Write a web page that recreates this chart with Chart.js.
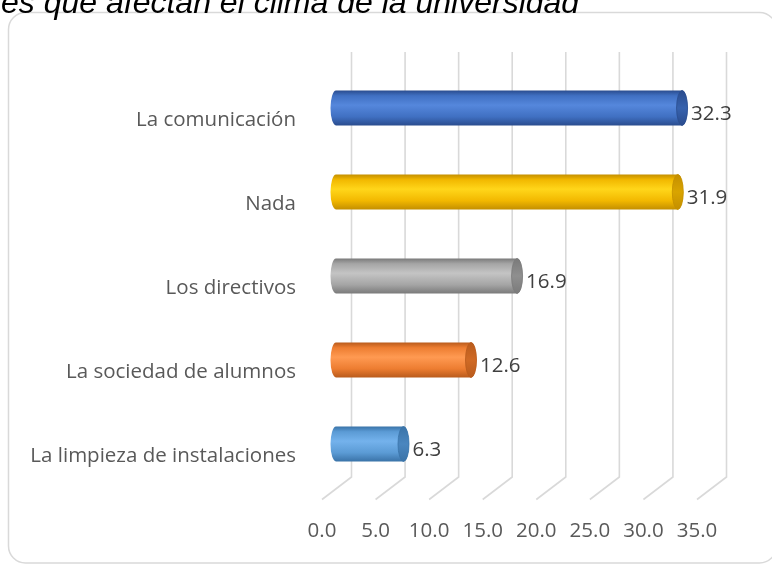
<!DOCTYPE html>
<html><head><meta charset="utf-8">
<script src="https://cdn.jsdelivr.net/npm/chart.js@4/dist/chart.umd.min.js"></script>
<style>html,body{margin:0;padding:0;background:#fff;overflow:hidden}</style>
</head><body><canvas id="c" width="772" height="565"></canvas>
<script>
const categories = ['La comunicación', 'Nada', 'Los directivos', 'La sociedad de alumnos', 'La limpieza de instalaciones'];
const values = [32.3, 31.9, 16.9, 12.6, 6.3];
const tickValues = [0, 5, 10, 15, 20, 25, 30, 35];
const titleText = 'es que afectan el clima de la universidad';
const barColors = [
  {dark:'#2a4c8e', base:'#4070c2', light:'#5587dc', cap:'#3762ad'},
  {dark:'#c48f00', base:'#f2b800', light:'#ffd61a', cap:'#d9a400'},
  {dark:'#7a7a7a', base:'#a5a5a5', light:'#c4c4c4', cap:'#8f8f8f'},
  {dark:'#b95b1c', base:'#ed7d31', light:'#ff9a52', cap:'#d06a25'},
  {dark:'#3a73a8', base:'#5b9bd5', light:'#74b2ec', cap:'#4a86bf'}
];

const DX = 14, DY = -12, BACKDX = 29.5;
const FONT = '"Open Sans", "Noto Sans", sans-serif';

function drawCylinder(ctx, x0, x1, cy, h, c) {
  const ry = h / 2, rx = 5.5;
  const top = cy - ry, bot = cy + ry;
  const g = ctx.createLinearGradient(0, top, 0, bot);
  g.addColorStop(0, c.dark);
  g.addColorStop(0.15, c.base);
  g.addColorStop(0.42, c.light);
  g.addColorStop(0.75, c.base);
  g.addColorStop(1, c.dark);
  ctx.beginPath();
  ctx.moveTo(x1, top);
  ctx.lineTo(x0, top);
  ctx.ellipse(x0, cy, rx, ry, 0, -Math.PI / 2, Math.PI / 2, true);
  ctx.lineTo(x1, bot);
  ctx.ellipse(x1, cy, rx, ry, 0, Math.PI / 2, -Math.PI / 2, true);
  ctx.closePath();
  ctx.fillStyle = g;
  ctx.fill();
  ctx.beginPath();
  ctx.ellipse(x1, cy, rx, ry, 0, 0, Math.PI * 2);
  const g2 = ctx.createLinearGradient(0, top, 0, bot);
  g2.addColorStop(0, c.dark);
  g2.addColorStop(0.5, c.cap);
  g2.addColorStop(1, c.dark);
  ctx.fillStyle = g2;
  ctx.fill();
  ctx.strokeStyle = c.dark;
  ctx.lineWidth = 0.8;
  ctx.stroke();
}

const decor = {
  id: 'decor',
  beforeDraw(chart) {
    const ctx = chart.ctx;
    ctx.save();
    ctx.fillStyle = '#fff';
    ctx.fillRect(0, 0, chart.width, chart.height);
    ctx.beginPath();
    ctx.roundRect(8.5, 12.5, 768, 550.5, 17);
    ctx.strokeStyle = '#d9d9d9';
    ctx.lineWidth = 1.5;
    ctx.stroke();
    ctx.font = 'italic 32px "Liberation Sans", Arial, sans-serif';
    ctx.fillStyle = '#000';
    ctx.textBaseline = 'alphabetic';
    ctx.textAlign = 'left';
    ctx.fillText(titleText, 1, 13);
    ctx.restore();
  },
  beforeDatasetsDraw(chart) {
    const ctx = chart.ctx, xs = chart.scales.x, a = chart.chartArea;
    ctx.save();
    ctx.strokeStyle = '#d9d9d9';
    ctx.lineWidth = 1.6;
    tickValues.forEach(v => {
      const fx = xs.getPixelForValue(v);
      const bx = fx + BACKDX;
      ctx.beginPath();
      ctx.moveTo(bx, a.top - 26);
      ctx.lineTo(bx, a.bottom - 21);
      ctx.lineTo(fx, a.bottom + 1.5);
      ctx.stroke();
    });
    ctx.restore();
  },
  afterDatasetsDraw(chart) {
    const ctx = chart.ctx;
    const meta = chart.getDatasetMeta(0);
    ctx.save();
    meta.data.forEach((el, i) => {
      const x0 = el.base + DX, x1 = el.x + DX, cy = el.y + DY;
      drawCylinder(ctx, x0, x1, cy, 35, barColors[i]);
      ctx.font = '20.5px ' + FONT;
      ctx.fillStyle = '#404040';
      ctx.textBaseline = 'middle';
      ctx.textAlign = 'left';
      ctx.fillText(values[i].toFixed(1), x1 + 9, el.y - 6);
    });
    ctx.restore();
  }
};

new Chart(document.getElementById('c'), {
  type: 'bar',
  data: {
    labels: categories,
    datasets: [{
      data: values,
      backgroundColor: 'rgba(0,0,0,0)',
      borderWidth: 0,
      barThickness: 35
    }]
  },
  options: {
    indexAxis: 'y',
    responsive: false,
    animation: false,
    devicePixelRatio: 1,
    layout: { padding: { top: 78, right: 75, left: 0, bottom: 0 } },
    plugins: { legend: { display: false }, tooltip: { enabled: false }, title: { display: false } },
    scales: {
      x: {
        min: 0, max: 35,
        afterBuildTicks(scale) { scale.ticks = tickValues.map(v => ({ value: v })); },
        afterFit(scale) { scale.height = 67; },
        grid: { display: false, drawTicks: false },
        border: { display: false },
        ticks: {
          padding: 21,
          color: '#595959',
          font: { family: FONT, size: 20.5 },
          callback: v => Number(v).toFixed(1)
        }
      },
      y: {
        afterFit(scale) { scale.width = 322; },
        grid: { display: false, drawTicks: false },
        border: { display: false },
        ticks: {
          padding: 26,
          color: '#595959',
          font: { family: FONT, size: 20.5 }
        }
      }
    }
  },
  plugins: [decor]
});
</script>
</body></html>
